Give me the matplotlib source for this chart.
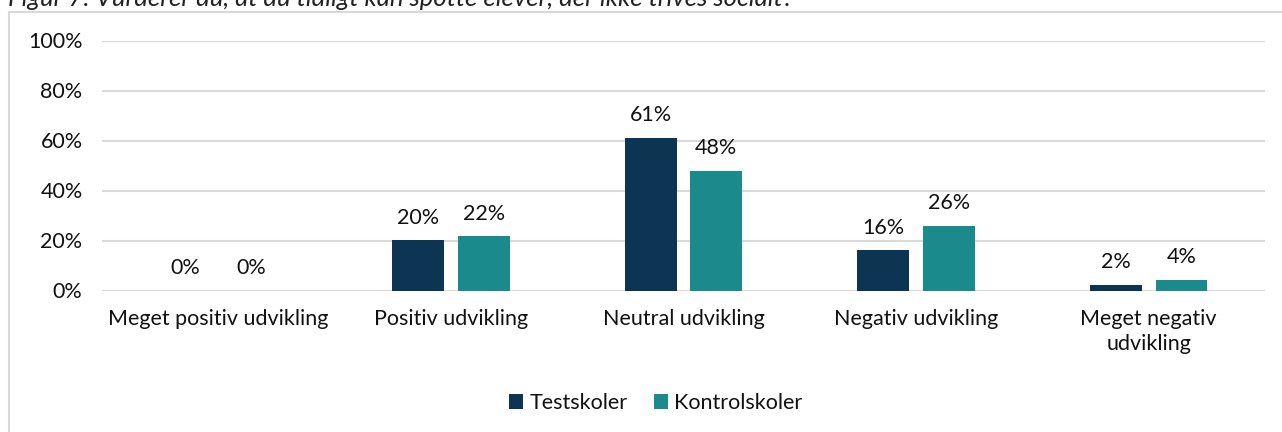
import matplotlib

matplotlib.use("Agg")
import matplotlib.pyplot as plt
import numpy as np
from matplotlib.patches import Rectangle

plt.rcParams["font.family"] = ["Lato", "DejaVu Sans"]

# data
categories = [
    "Meget positiv udvikling",
    "Positiv udvikling",
    "Neutral udvikling",
    "Negativ udvikling",
    "Meget negativ\nudvikling",
]
testskoler = [0.0, 20.2, 61.1, 16.2, 2.2]
kontrolskoler = [0.0, 21.7, 47.8, 26.0, 4.4]
yticks = [0, 20, 40, 60, 80, 100]
title = "Figur 7: Vurderer du, at du tidligt kan spotte elever, der ikke trives socialt?"

NAVY = "#0C3554"
TEAL = "#1B8A8C"
GRID = "#D9D9D9"
W, H = 1282, 432
FS = 15.5

fig = plt.figure(figsize=(W / 100, H / 100), dpi=100)

# outer frame (open on the right/bottom, as in the cropped screenshot)
fig.patches.append(Rectangle((9 / W, -0.1), 1.2, 1 - 12 / H + 0.1,
                             transform=fig.transFigure, fill=False,
                             edgecolor=GRID, linewidth=1.5))
fig.text(8 / W, 1 - 6 / H, title, style="italic", fontsize=18.5,
         ha="left", va="baseline", color="#222222")

ax = fig.add_axes([102 / W, (H - 290.5) / H, 1163 / W, 250 / H])
x = np.arange(len(categories))
bw = 0.2235
off = 0.141
b1 = ax.bar(x - off, testskoler, bw, color=NAVY, label="Testskoler", zorder=3)
b2 = ax.bar(x + off, kontrolskoler, bw, color=TEAL, label="Kontrolskoler", zorder=3)

for bars, vals in ((b1, testskoler), (b2, kontrolskoler)):
    for rect, v in zip(bars, vals):
        ax.annotate(f"{v:.0f}%", (rect.get_x() + rect.get_width() / 2, v),
                    xytext=(0, 9), textcoords="offset points",
                    ha="center", va="bottom", fontsize=FS, color="#111111")

ax.set_xlim(-0.5, len(categories) - 0.5)
ax.set_ylim(0, 100)
ax.set_yticks(yticks)
ax.set_yticklabels([f"{t}%" for t in yticks])
ax.set_xticks(x)
ax.set_xticklabels(categories, linespacing=1.35)
ax.tick_params(axis="both", length=0, labelsize=FS, labelcolor="#111111")
ax.tick_params(axis="y", pad=14)
ax.tick_params(axis="x", pad=13)
ax.grid(axis="y", color=GRID, linewidth=1.5, zorder=0)
for s in ax.spines.values():
    s.set_visible(False)

fig.legend(handles=[b1, b2], loc="center", bbox_to_anchor=(656 / W, 1 - 403 / H),
           ncol=2, frameon=False, fontsize=FS, handlelength=0.65, handleheight=0.65,
           handletextpad=0.3, columnspacing=1.2, labelcolor="#111111")

fig.savefig("out.png", dpi=100)
